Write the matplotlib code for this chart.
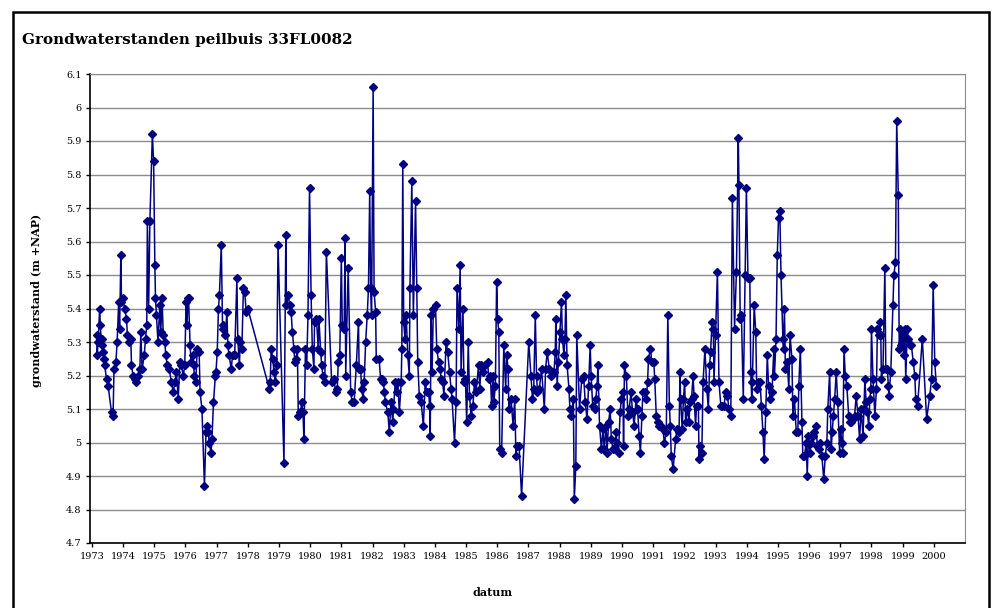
"""Grondwaterstanden peilbuis 33FL0082"""

import matplotlib
matplotlib.use("Agg")
import matplotlib.pyplot as plt
from matplotlib.patches import Rectangle

# decimal year, groundwater level (m +NAP)
datum = [
    1973.15, 1973.17, 1973.20, 1973.25, 1973.27, 1973.31, 1973.33, 1973.36, 1973.39, 1973.41,
    1973.47, 1973.52, 1973.63, 1973.68, 1973.71, 1973.77, 1973.81, 1973.86, 1973.89, 1973.93,
    1973.95, 1974.00, 1974.05, 1974.11, 1974.14, 1974.18, 1974.25, 1974.27, 1974.32, 1974.38,
    1974.43, 1974.48, 1974.54, 1974.57, 1974.61, 1974.68, 1974.72, 1974.76, 1974.78, 1974.82,
    1974.86, 1974.94, 1974.98, 1975.02, 1975.04, 1975.07, 1975.12, 1975.18, 1975.21, 1975.25,
    1975.29, 1975.34, 1975.37, 1975.42, 1975.48, 1975.55, 1975.61, 1975.66, 1975.71, 1975.77,
    1975.82, 1975.87, 1975.93, 1975.98, 1976.02, 1976.05, 1976.08, 1976.10, 1976.15, 1976.18,
    1976.23, 1976.26, 1976.29, 1976.33, 1976.38, 1976.44, 1976.47, 1976.53, 1976.61, 1976.66,
    1976.69, 1976.74, 1976.76, 1976.82, 1976.85, 1976.90, 1976.96, 1976.98, 1977.02, 1977.06,
    1977.09, 1977.15, 1977.19, 1977.22, 1977.28, 1977.33, 1977.36, 1977.40, 1977.47, 1977.51,
    1977.58, 1977.65, 1977.68, 1977.73, 1977.76, 1977.81, 1977.86, 1977.90, 1977.95, 1978.00,
    1978.69, 1978.72, 1978.75, 1978.80, 1978.84, 1978.88, 1978.93, 1978.97, 1979.16, 1979.22,
    1979.24, 1979.30, 1979.34, 1979.39, 1979.43, 1979.48, 1979.51, 1979.56, 1979.59, 1979.62,
    1979.69, 1979.73, 1979.77, 1979.80, 1979.85, 1979.89, 1979.93, 1979.98, 1980.03, 1980.07,
    1980.12, 1980.14, 1980.20, 1980.26, 1980.28, 1980.34, 1980.37, 1980.41, 1980.47, 1980.52,
    1980.69, 1980.76, 1980.82, 1980.87, 1980.90, 1980.95, 1981.00, 1981.03, 1981.09, 1981.12,
    1981.14, 1981.22, 1981.30, 1981.35, 1981.41, 1981.48, 1981.55, 1981.57, 1981.62, 1981.65,
    1981.70, 1981.73, 1981.78, 1981.83, 1981.87, 1981.91, 1981.94, 1981.97, 1982.02, 1982.05,
    1982.10, 1982.12, 1982.21, 1982.26, 1982.31, 1982.35, 1982.38, 1982.41, 1982.49, 1982.54,
    1982.59, 1982.65, 1982.67, 1982.73, 1982.78, 1982.81, 1982.86, 1982.92, 1982.94, 1982.97,
    1983.00, 1983.04, 1983.08, 1983.13, 1983.18, 1983.20, 1983.26, 1983.31, 1983.38, 1983.42,
    1983.45, 1983.50, 1983.56, 1983.63, 1983.69, 1983.74, 1983.80, 1983.83, 1983.85, 1983.88,
    1983.91, 1983.95, 1984.02, 1984.06, 1984.12, 1984.17, 1984.20, 1984.25, 1984.29, 1984.36,
    1984.41, 1984.47, 1984.52, 1984.55, 1984.63, 1984.68, 1984.71, 1984.77, 1984.81, 1984.84,
    1984.90, 1984.93, 1984.98, 1985.02, 1985.07, 1985.11, 1985.16, 1985.22, 1985.27, 1985.32,
    1985.40, 1985.44, 1985.48, 1985.55, 1985.61, 1985.69, 1985.73, 1985.78, 1985.82, 1985.87,
    1985.89, 1985.94, 1985.98, 1986.01, 1986.05, 1986.08, 1986.14, 1986.21, 1986.27, 1986.30,
    1986.35, 1986.37, 1986.44, 1986.51, 1986.56, 1986.60, 1986.64, 1986.70, 1986.78, 1987.01,
    1987.08, 1987.13, 1987.17, 1987.22, 1987.26, 1987.29, 1987.35, 1987.42, 1987.51, 1987.55,
    1987.60, 1987.67, 1987.71, 1987.76, 1987.82, 1987.86, 1987.88, 1987.92, 1987.96, 1988.01,
    1988.06, 1988.09, 1988.14, 1988.17, 1988.20, 1988.24, 1988.30, 1988.33, 1988.38, 1988.44,
    1988.47, 1988.52, 1988.55, 1988.64, 1988.71, 1988.77, 1988.82, 1988.88, 1988.93, 1988.98,
    1989.01, 1989.06, 1989.12, 1989.16, 1989.20, 1989.23, 1989.28, 1989.34, 1989.39, 1989.43,
    1989.49, 1989.52, 1989.57, 1989.62, 1989.66, 1989.71, 1989.76, 1989.81, 1989.84, 1989.89,
    1989.94, 1989.98, 1990.03, 1990.05, 1990.08, 1990.14, 1990.19, 1990.23, 1990.29, 1990.34,
    1990.39, 1990.45, 1990.50, 1990.55, 1990.59, 1990.64, 1990.67, 1990.73, 1990.78, 1990.82,
    1990.85, 1990.91, 1990.96, 1991.02, 1991.05, 1991.10, 1991.14, 1991.19, 1991.25, 1991.31,
    1991.36, 1991.42, 1991.47, 1991.52, 1991.55, 1991.58, 1991.64, 1991.72, 1991.77, 1991.83,
    1991.86, 1991.88, 1991.93, 1991.97, 1992.01, 1992.04, 1992.10, 1992.15, 1992.18, 1992.23,
    1992.28, 1992.31, 1992.36, 1992.39, 1992.45, 1992.47, 1992.50, 1992.56, 1992.60, 1992.66,
    1992.72, 1992.77, 1992.81, 1992.84, 1992.89, 1992.93, 1992.95, 1993.00, 1993.06, 1993.11,
    1993.17, 1993.22, 1993.27, 1993.33, 1993.38, 1993.43, 1993.49, 1993.54, 1993.61, 1993.67,
    1993.73, 1993.75, 1993.79, 1993.83, 1993.89, 1993.95, 1993.99, 1994.04, 1994.10, 1994.13,
    1994.16, 1994.18, 1994.24, 1994.29, 1994.32, 1994.36, 1994.43, 1994.47, 1994.52, 1994.56,
    1994.61, 1994.66, 1994.70, 1994.75, 1994.81, 1994.87, 1994.89, 1994.94, 1994.98, 1995.02,
    1995.06, 1995.10, 1995.16, 1995.18, 1995.21, 1995.24, 1995.30, 1995.35, 1995.39, 1995.45,
    1995.48, 1995.53, 1995.59, 1995.64, 1995.67, 1995.72, 1995.77, 1995.80, 1995.85, 1995.91,
    1995.94, 1995.98, 1996.03, 1996.07, 1996.12, 1996.17, 1996.23, 1996.26, 1996.31, 1996.36,
    1996.41, 1996.47, 1996.52, 1996.57, 1996.60, 1996.66, 1996.71, 1996.74, 1996.78, 1996.82,
    1996.87, 1996.92, 1996.98, 1997.01, 1997.05, 1997.08, 1997.12, 1997.16, 1997.21, 1997.27,
    1997.30, 1997.35, 1997.40, 1997.46, 1997.51, 1997.57, 1997.62, 1997.67, 1997.73, 1997.76,
    1997.79, 1997.83, 1997.87, 1997.91, 1997.95, 1997.98, 1998.00, 1998.05, 1998.11, 1998.16,
    1998.19, 1998.24, 1998.27, 1998.30, 1998.32, 1998.37, 1998.43, 1998.46, 1998.51, 1998.54,
    1998.56, 1998.62, 1998.69, 1998.72, 1998.77, 1998.81, 1998.86, 1998.89, 1998.93, 1998.96,
    1999.00, 1999.04, 1999.07, 1999.10, 1999.15, 1999.18, 1999.23, 1999.28, 1999.34, 1999.39,
    1999.42, 1999.48, 1999.63, 1999.77, 1999.87, 1999.93, 1999.98, 2000.03, 2000.08,
]

stand = [
    5.32, 5.26, 5.30, 5.40, 5.35, 5.29, 5.31, 5.27, 5.25, 5.23,
    5.19, 5.17, 5.09, 5.08, 5.22, 5.24, 5.30, 5.42, 5.34, 5.56,
    5.42, 5.43, 5.40, 5.37, 5.32, 5.30, 5.31, 5.23, 5.20, 5.19,
    5.18, 5.20, 5.22, 5.33, 5.22, 5.26, 5.31, 5.35, 5.66, 5.40,
    5.66, 5.92, 5.84, 5.53, 5.43, 5.38, 5.30, 5.41, 5.33, 5.43,
    5.32, 5.30, 5.26, 5.23, 5.22, 5.18, 5.15, 5.18, 5.21, 5.13,
    5.24, 5.23, 5.20, 5.23, 5.42, 5.35, 5.43, 5.43, 5.29, 5.24,
    5.26, 5.23, 5.20, 5.18, 5.28, 5.27, 5.15, 5.10, 4.87, 5.03,
    5.05, 5.03, 5.00, 4.97, 5.01, 5.12, 5.20, 5.21, 5.27, 5.40,
    5.44, 5.59, 5.35, 5.34, 5.32, 5.39, 5.29, 5.26, 5.22, 5.26,
    5.26, 5.49, 5.31, 5.23, 5.30, 5.28, 5.46, 5.45, 5.39, 5.40,
    5.16, 5.18, 5.28, 5.25, 5.21, 5.18, 5.23, 5.59, 4.94, 5.62,
    5.41, 5.44, 5.41, 5.39, 5.33, 5.28, 5.24, 5.25, 5.28, 5.08,
    5.09, 5.12, 5.09, 5.01, 5.28, 5.23, 5.38, 5.76, 5.44, 5.28,
    5.22, 5.36, 5.37, 5.28, 5.37, 5.27, 5.23, 5.20, 5.18, 5.57,
    5.18, 5.19, 5.15, 5.16, 5.24, 5.26, 5.55, 5.35, 5.34, 5.61,
    5.20, 5.52, 5.15, 5.12, 5.12, 5.23, 5.36, 5.22, 5.22, 5.16,
    5.13, 5.18, 5.30, 5.38, 5.46, 5.75, 5.46, 5.38, 6.06, 5.45,
    5.39, 5.25, 5.25, 5.19, 5.19, 5.18, 5.15, 5.12, 5.09, 5.03,
    5.12, 5.06, 5.10, 5.18, 5.15, 5.18, 5.09, 5.18, 5.28, 5.83,
    5.36, 5.31, 5.38, 5.26, 5.20, 5.46, 5.78, 5.38, 5.72, 5.46,
    5.24, 5.14, 5.12, 5.05, 5.18, 5.15, 5.15, 5.11, 5.02, 5.38,
    5.21, 5.40, 5.41, 5.28, 5.24, 5.22, 5.19, 5.18, 5.14, 5.30,
    5.27, 5.21, 5.16, 5.13, 5.00, 5.12, 5.46, 5.34, 5.53, 5.21,
    5.40, 5.18, 5.19, 5.06, 5.30, 5.14, 5.08, 5.11, 5.18, 5.15,
    5.23, 5.16, 5.23, 5.21, 5.23, 5.24, 5.19, 5.20, 5.11, 5.20,
    5.12, 5.17, 5.48, 5.37, 5.33, 4.98, 4.97, 5.29, 5.16, 5.26,
    5.22, 5.10, 5.13, 5.05, 5.13, 4.96, 4.99, 4.99, 4.84, 5.30,
    5.20, 5.13, 5.16, 5.38, 5.20, 5.15, 5.16, 5.22, 5.10, 5.22,
    5.27, 5.22, 5.20, 5.21, 5.21, 5.27, 5.37, 5.17, 5.24, 5.33,
    5.42, 5.31, 5.26, 5.31, 5.44, 5.23, 5.16, 5.10, 5.08, 5.13,
    4.83, 4.93, 5.32, 5.10, 5.19, 5.20, 5.12, 5.07, 5.17, 5.29,
    5.20, 5.11, 5.10, 5.13, 5.17, 5.23, 5.05, 4.98, 5.04, 4.98,
    5.05, 4.97, 5.06, 5.10, 5.01, 4.98, 4.98, 5.03, 5.00, 4.97,
    5.09, 5.13, 5.15, 4.99, 5.23, 5.20, 5.08, 5.10, 5.15, 5.09,
    5.05, 5.13, 5.10, 5.02, 4.97, 5.08, 5.15, 5.15, 5.13, 5.18,
    5.25, 5.28, 5.24, 5.24, 5.19, 5.08, 5.06, 5.05, 5.05, 5.04,
    5.00, 5.03, 5.38, 5.11, 5.05, 4.96, 4.92, 5.01, 5.04, 5.03,
    5.21, 5.13, 5.04, 5.13, 5.18, 5.06, 5.10, 5.06, 5.12, 5.13,
    5.20, 5.14, 5.05, 5.11, 5.11, 4.95, 4.99, 4.97, 5.18, 5.28,
    5.16, 5.10, 5.23, 5.27, 5.36, 5.34, 5.18, 5.32, 5.51, 5.18,
    5.11, 5.11, 5.11, 5.15, 5.14, 5.10, 5.08, 5.73, 5.34, 5.51,
    5.91, 5.77, 5.37, 5.38, 5.13, 5.50, 5.76, 5.49, 5.49, 5.21,
    5.13, 5.18, 5.41, 5.33, 5.16, 5.18, 5.18, 5.11, 5.03, 4.95,
    5.09, 5.26, 5.17, 5.13, 5.15, 5.28, 5.20, 5.31, 5.56, 5.67,
    5.69, 5.50, 5.31, 5.28, 5.40, 5.22, 5.24, 5.16, 5.32, 5.25,
    5.08, 5.13, 5.03, 5.03, 5.17, 5.28, 5.06, 4.96, 4.96, 5.00,
    4.90, 5.02, 4.97, 5.00, 5.02, 5.03, 5.05, 4.99, 4.98, 5.00,
    4.96, 4.89, 4.96, 5.00, 5.10, 5.21, 4.98, 5.03, 5.08, 5.13,
    5.21, 5.12, 4.97, 5.04, 5.00, 4.97, 5.28, 5.20, 5.17, 5.08,
    5.06, 5.06, 5.07, 5.08, 5.14, 5.08, 5.01, 5.10, 5.02, 5.10,
    5.19, 5.12, 5.09, 5.05, 5.13, 5.16, 5.34, 5.19, 5.08, 5.16,
    5.34, 5.32, 5.36, 5.32, 5.19, 5.22, 5.52, 5.22, 5.22, 5.17,
    5.14, 5.21, 5.41, 5.50, 5.54, 5.96, 5.74, 5.28, 5.34, 5.29,
    5.32, 5.26, 5.34, 5.19, 5.34, 5.31, 5.29, 5.29, 5.24, 5.20,
    5.13, 5.11, 5.31, 5.07, 5.14, 5.19, 5.47, 5.24, 5.17,
]

jaren = list(range(1973, 2001))
y_ticks = [round(4.7 + 0.1 * i, 1) for i in range(15)]

fig = plt.figure(figsize=(9.93, 6.08), dpi=100)
ax = fig.add_axes([90 / 993, 1 - 543 / 608, 875 / 993, 469 / 608])

ax.plot(datum, stand, color="#000080", lw=1.1, marker="D", ms=4.2,
        markerfacecolor="#000080", markeredgecolor="#000080")

ax.set_xlim(1972.94, 2001.0)
ax.set_ylim(4.7, 6.1)
ax.set_yticks(y_ticks)
ax.set_yticklabels([f"{v:g}" for v in y_ticks], family="DejaVu Serif", fontsize=7)
ax.set_xticks(jaren)
ax.set_xticklabels([str(j) for j in jaren], family="DejaVu Serif", fontsize=7)
ax.tick_params(axis="x", direction="out", length=3, width=1, pad=3.5, color="black")
ax.tick_params(axis="y", direction="out", length=3, width=1, pad=3, color="black")

ax.grid(axis="y", color="#8c8c8c", lw=1.0)
ax.set_axisbelow(True)
ax.spines["left"].set_color("black")
ax.spines["bottom"].set_color("black")
ax.spines["left"].set_linewidth(1.2)
ax.spines["bottom"].set_linewidth(1.2)
ax.spines["top"].set_color("#8c8c8c")
ax.spines["right"].set_color("#8c8c8c")

fig.text(22 / 993, 1 - 40 / 608, "Grondwaterstanden peilbuis 33FL0082",
         family="DejaVu Serif", fontweight="bold", fontsize=10.9, va="center", ha="left")
fig.text(37 / 993, 1 - 300 / 608, "grondwaterstand (m +NAP)", rotation=90,
         family="DejaVu Serif", fontweight="bold", fontsize=8, va="center", ha="center")
fig.text(493 / 993, 1 - 592 / 608, "datum",
         family="DejaVu Serif", fontweight="bold", fontsize=8, va="center", ha="center")

# outer chart frame
fig.patches.append(Rectangle((12.5 / 993, -0.05), 976 / 993, 1.05 - 12 / 608,
                             transform=fig.transFigure, fill=False,
                             edgecolor="black", lw=1.8))

fig.savefig("out.png", dpi=100)
